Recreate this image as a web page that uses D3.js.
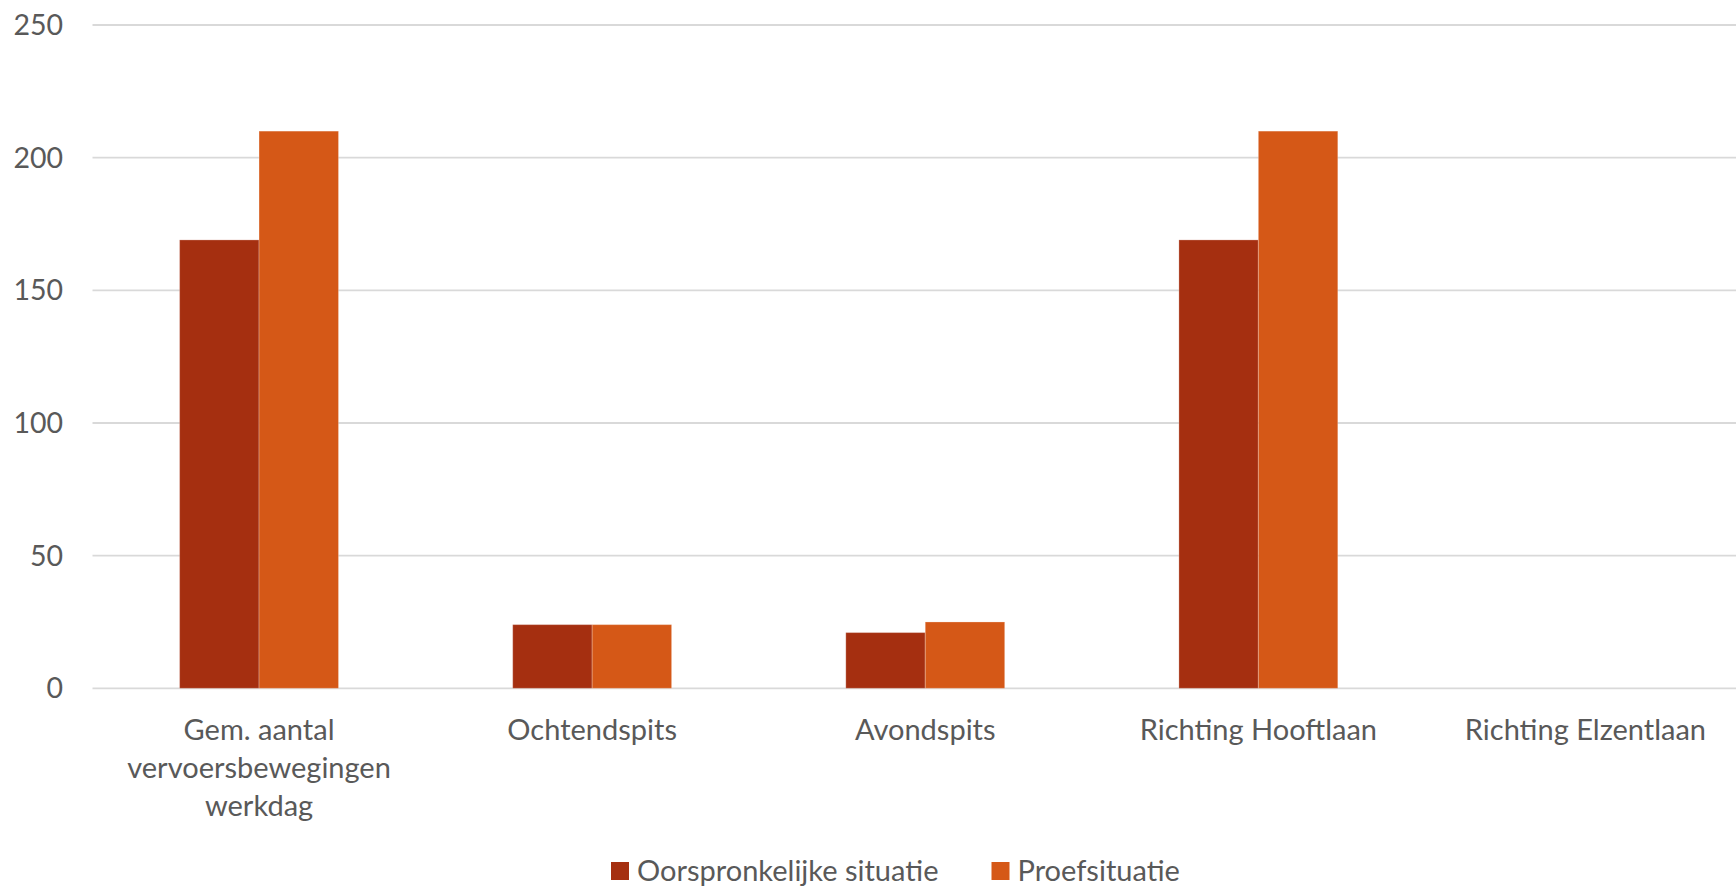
<!DOCTYPE html>
<html>
<head>
<meta charset="utf-8">
<script src="https://cdn.jsdelivr.net/npm/d3@7"></script>
<style>
  body { margin: 0; background: #fff; }
  text { font-family: Lato, "Liberation Sans", sans-serif; fill: #595959; }
</style>
</head>
<body>
<div id="chart"></div>
<script>
// data
const categories = ["Gem. aantal\nvervoersbewegingen\nwerkdag", "Ochtendspits", "Avondspits", "Richting Hooftlaan", "Richting Elzentlaan"];
const seriesNames = ["Oorspronkelijke situatie", "Proefsituatie"];
const origineel = [169, 24, 21, 169, 0];
const proef = [210, 24, 25, 210, 0];
const yTicks = [0, 50, 100, 150, 200, 250];
const colors = ["#A52F10", "#D55817"];

const W = 1736, H = 886;
let m = { left: 92.5, right: -22, top: 25, bottom: 197.7 };

let svg = d3.select("#chart").append("svg")
    .attr("width", W)
    .attr("height", H);

let x0 = d3.scaleBand()
    .domain(categories)
    .range([m.left, W - m.right])
    .paddingInner(0.523)
    .paddingOuter(0.2615);

let x1 = d3.scaleBand()
    .domain(seriesNames)
    .range([0, x0.bandwidth()]);

let y = d3.scaleLinear()
    .domain([0, 250])
    .range([H - m.bottom, m.top]);

let color = d3.scaleOrdinal().domain(seriesNames).range(colors);

// gridlines
svg.append("g")
    .selectAll("line")
    .data(yTicks)
    .enter().append("line")
    .attr("x1", m.left)
    .attr("x2", W)
    .attr("y1", d => y(d))
    .attr("y2", d => y(d))
    .attr("stroke", "#d9d9d9")
    .attr("stroke-width", 1.8);

// y labels
svg.append("g")
    .selectAll("text")
    .data(yTicks)
    .enter().append("text")
    .attr("x", 63)
    .attr("y", d => y(d))
    .attr("dy", "0.35em")
    .attr("text-anchor", "end")
    .style("font-size", "28.5px")
    .text(d => d);

// bars
let rows = categories.map((c, i) => ({ cat: c, vals: [origineel[i], proef[i]] }));

let groups = svg.append("g")
    .selectAll("g")
    .data(rows)
    .enter().append("g")
    .attr("transform", d => "translate(" + x0(d.cat) + ",0)");

groups.selectAll("rect")
    .data(d => d.vals.map((v, j) => ({ name: seriesNames[j], v: v })))
    .enter().append("rect")
    .filter(d => d.v > 0)
    .attr("x", d => x1(d.name))
    .attr("y", d => y(d.v))
    .attr("width", x1.bandwidth())
    .attr("height", d => y(0) - y(d.v))
    .attr("fill", d => color(d.name))
    .attr("stroke", "rgba(255,255,255,0.25)")
    .attr("stroke-width", 1);

// category labels
let catLabels = svg.append("g")
    .selectAll("text")
    .data(categories)
    .enter().append("text")
    .attr("text-anchor", "middle")
    .style("font-size", "29px");

catLabels.each(function (d) {
    let t = d3.select(this);
    d.split("\n").forEach((line, k) => {
        t.append("tspan")
            .attr("x", 0)
            .attr("y", k * 38)
            .text(line);
    });
    // keep labels inside the visible area, like the original does at the clipped edge
    let cx = x0(d) + x0.bandwidth() / 2;
    let half = this.getBBox().width / 2;
    cx = Math.min(cx, W - 30 - half);
    t.attr("transform", "translate(" + cx + ",740)");
});

// legend
let legendX = [611, 991.5];
let legend = svg.append("g");
seriesNames.forEach((s, i) => {
    let g = legend.append("g")
        .attr("transform", "translate(" + legendX[i] + ",862)");
    g.append("rect")
        .attr("width", 18)
        .attr("height", 18)
        .attr("fill", color(s));
    g.append("text")
        .attr("x", 26)
        .attr("y", 9)
        .attr("dy", "0.35em")
        .style("font-size", "29px")
        .text(s);
});
</script>
</body>
</html>
